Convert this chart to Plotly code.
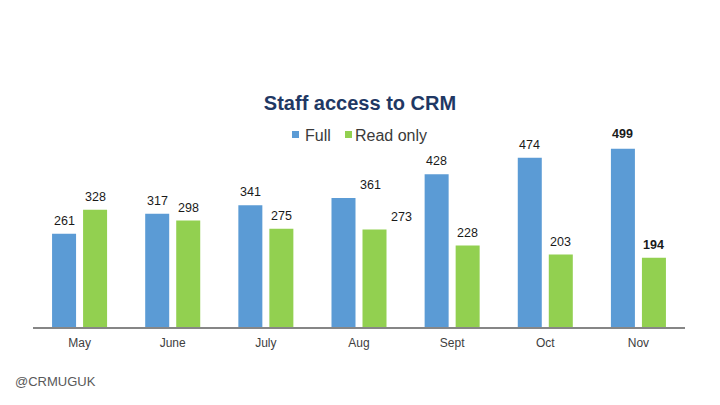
import plotly.graph_objects as go

months = ["May", "June", "July", "Aug", "Sept", "Oct", "Nov"]
full = [261, 317, 341, 361, 428, 474, 499]
read_only = [328, 298, 275, 273, 228, 203, 194]
series_names = ["Full", "Read only"]

BLUE = "#5B9BD5"
GREEN = "#92D050"

# page offset: browser body margin of 8px is compensated by reducing the figure size
W, H = 712, 397
L, R, T, B = 25, 35, 119, 78
PW, PH = W - L - R, H - T - B


def px(xp):  # page x -> paper x
    return (xp - 8 - L) / PW


def py(yp):  # page y -> paper y
    return (H - B - (yp - 8)) / PH


fig = go.Figure()
fig.add_bar(x=months, y=full, name=series_names[0], marker=dict(color=BLUE, line=dict(width=0)))
fig.add_bar(x=months, y=read_only, name=series_names[1], marker=dict(color=GREEN, line=dict(width=0)))

# value labels
extra_shift = {"Aug": 27}
bold_pts = {("Nov", "full"), ("Nov", "ro")}
for m, v in zip(months, full):
    txt = f"<b>{v}</b>" if (m, "full") in bold_pts else str(v)
    fig.add_annotation(x=m, y=v, text=txt, showarrow=False, xref="x", yref="y",
                       xshift=-15.5 + extra_shift.get(m, 0), yshift=13 if m != "Nov" else 15,
                       font=dict(family="Arial", size=12.5, color="#1a1a1a"))
for m, v in zip(months, read_only):
    txt = f"<b>{v}</b>" if (m, "ro") in bold_pts else str(v)
    fig.add_annotation(x=m, y=v, text=txt, showarrow=False, xref="x", yref="y",
                       xshift=15.5 + extra_shift.get(m, 0), yshift=13,
                       font=dict(family="Arial", size=12.5, color="#1a1a1a"))

# legend (drawn manually to match the compact look)
for (x0, x1, col, tx, name) in [(292, 299, BLUE, 303, series_names[0]),
                                (345, 352, GREEN, 353, series_names[1])]:
    fig.add_shape(type="rect", xref="paper", yref="paper",
                  x0=px(x0), x1=px(x1), y0=py(138), y1=py(131),
                  fillcolor=col, line=dict(width=0))
    fig.add_annotation(text=name, xref="paper", yref="paper", x=px(tx), y=py(135),
                       xanchor="left", yanchor="middle", showarrow=False,
                       font=dict(family="Arial", size=16, color="#3a3a3a"))

fig.add_annotation(text="@CRMUGUK", xref="paper", yref="paper", x=px(13), y=py(381),
                   xanchor="left", yanchor="middle", showarrow=False,
                   font=dict(family="Liberation Sans", size=13, color="#595959"))

fig.update_layout(
    width=W, height=H,
    paper_bgcolor="white", plot_bgcolor="white",
    margin=dict(l=L, r=R, t=T, b=B),
    barmode="group", bargap=0.334, bargroupgap=0.226,
    title=dict(text="<b>Staff access to CRM</b>", x=px(360), xref="paper", xanchor="center",
               y=1 - (103 - 8) / H, yanchor="middle",
               font=dict(family="Arial", size=20, color="#1F3864")),
    showlegend=False,
    xaxis=dict(showline=True, linecolor="#868686", linewidth=2, ticks="",
               ticklabelstandoff=4,
               tickfont=dict(family="Arial", size=12, color="#404040"),
               showgrid=False, zeroline=False),
    yaxis=dict(range=[0, 560], visible=False, showgrid=False, zeroline=False),
)

fig.write_html("out.html")
